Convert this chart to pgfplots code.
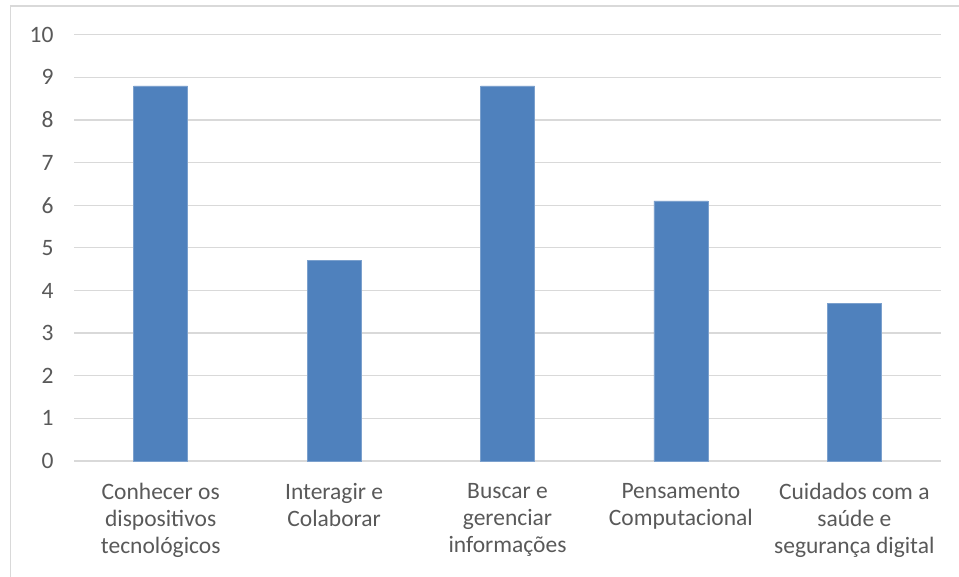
\documentclass[border=0pt]{standalone}
\usepackage{pgfplots}
\pgfplotsset{compat=1.18}
\usepackage{fontspec}
\setmainfont{Carlito}
\definecolor{barblue}{HTML}{4F81BD}
\definecolor{gridgray}{HTML}{D9D9D9}
\definecolor{textgray}{HTML}{595959}
\definecolor{framegray}{HTML}{D9D9D9}
\begin{document}
\begin{tikzpicture}[x=1bp,y=1bp]
\useasboundingbox (0,0) rectangle (959,577);
\draw[framegray, line width=1.5bp] (10.5,0) -- (10.5,571) -- (959,571);
\begin{axis}[
  at={(74bp,116bp)}, anchor=south west,
  scale only axis,
  width=867bp, height=426.3bp,
  xmin=-0.5, xmax=4.5,
  ymin=0, ymax=10,
  ytick={0,1,...,10},
  xtick={0,1,2,3,4},
  xticklabels={{Conhecer os\\dispositivos\\tecnológicos},{Interagir e\\Colaborar},{Buscar e\\gerenciar\\informações},{Pensamento\\Computacional},{Cuidados com a\\saúde e\\segurança digital}},
  axis line style={draw=none},
  major tick length=0pt,
  ymajorgrids,
  grid style={gridgray, line width=1.3bp},
  tick label style={font=\fontsize{23.5bp}{27bp}\selectfont, text=textgray},
  xticklabel style={align=center, yshift=-19bp},
  yticklabel style={xshift=-17bp},
  /pgf/number format/assume math mode=true,
  clip=false,
]
\addplot[ybar, bar width=54bp, fill=barblue, draw=barblue!75!white, line width=0.6bp] coordinates {
  (0,8.8) (1,4.7) (2,8.8) (3,6.1) (4,3.7)
};
\end{axis}
\end{tikzpicture}
\end{document}
